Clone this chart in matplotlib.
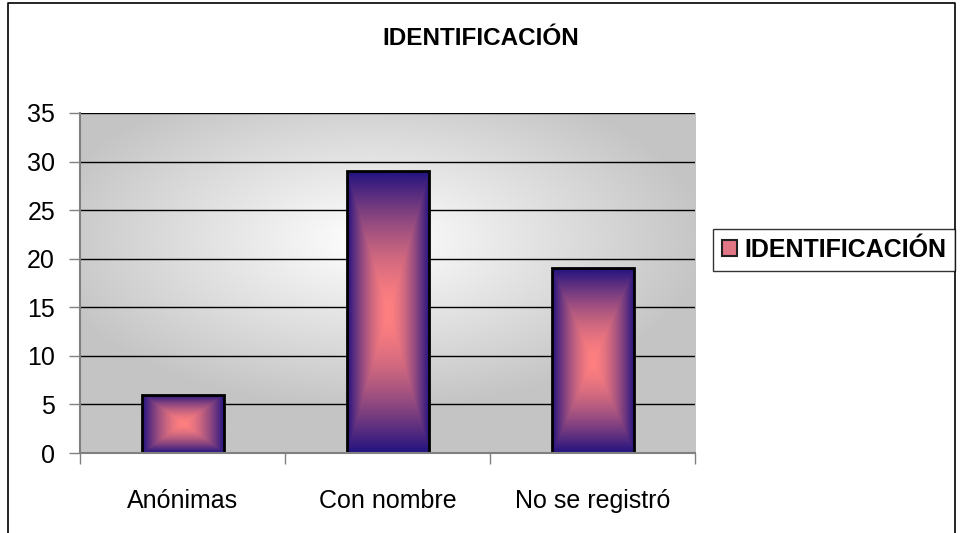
import numpy as np
import matplotlib.pyplot as plt
from matplotlib.patches import Rectangle
from matplotlib.lines import Line2D
from matplotlib.colors import LinearSegmentedColormap

plt.rcParams['font.family'] = ['Liberation Sans', 'DejaVu Sans']

categories = ["Anónimas", "Con nombre", "No se registró"]
values = [6, 29, 19]
series_name = "IDENTIFICACIÓN"
yticks = [0, 5, 10, 15, 20, 25, 30, 35]

edge_col = (0.13, 0.07, 0.50)
mid_col = (1.0, 0.5, 0.5)
bar_cmap = LinearSegmentedColormap.from_list("bar", [mid_col, edge_col])
bg_cmap = LinearSegmentedColormap.from_list("bg", ["#ffffff", "#c4c4c4"])

fig = plt.figure(figsize=(9.62, 5.33), dpi=100)
ax = fig.add_axes([0.0832, 0.150, 0.6393, 0.638])

x = np.arange(len(categories))
ax.set_xlim(-0.5, len(categories) - 0.5)
ax.set_ylim(0, 35)

# radial background of the plot area
gx, gy = np.meshgrid(np.linspace(-1, 1, 300), np.linspace(-1, 1, 200))
r = np.sqrt(((gx + 0.05) / 1.1) ** 2 + ((gy - 0.25) / 1.0) ** 2)
ax.imshow(np.clip(r, 0, 1), cmap=bg_cmap, extent=[-0.5, 2.5, 0, 35],
          aspect="auto", origin="lower", zorder=0, interpolation="bilinear")

for yv in yticks[1:]:
    ax.axhline(yv, color="black", lw=1, zorder=1)

bars = ax.bar(x, values, width=0.4, facecolor="none", edgecolor="black",
              linewidth=2, zorder=3)

# rectangular "from center" gradient inside each bar
u, v = np.meshgrid(np.linspace(-1, 1, 200), np.linspace(-1, 1, 400))
grad = np.maximum(np.abs(u), np.abs(v)) ** 1.6
for b in bars:
    w, h = b.get_width(), b.get_height()
    x0 = b.get_x()
    im = ax.imshow(grad, cmap=bar_cmap, vmin=0, vmax=1,
                   extent=[x0, x0 + w, 0, h], aspect="auto", origin="lower",
                   zorder=2, interpolation="bilinear")
    im.set_clip_path(b)

ax.set_yticks(yticks)
ax.set_xticks(x)
ax.set_xticklabels(categories)
ax.set_xticks([-0.5, 0.5, 1.5, 2.5], minor=True)
ax.tick_params(axis="x", which="major", length=0, pad=26, labelsize=18)
ax.tick_params(axis="x", which="minor", length=8, width=1, color="#808080")
ax.tick_params(axis="y", length=8, width=1, color="#808080", pad=10, labelsize=18)

for s in ["top", "right"]:
    ax.spines[s].set_visible(False)
ax.spines["left"].set_color("#808080")
ax.spines["bottom"].set_color("#808080")
ax.spines["left"].set_linewidth(1.5)
ax.spines["bottom"].set_linewidth(1.5)
ax.spines["bottom"].set_zorder(4)

fig.text(0.5, 0.928, series_name, ha="center", va="center",
         fontsize=17.5, fontweight="bold")

handle = Rectangle((0, 0), 1, 1, facecolor="#e07585", edgecolor="#202020", lw=1.5)
leg = fig.legend([handle], [series_name], loc="center left",
                 bbox_to_anchor=(0.741, 0.531), frameon=True, fancybox=False,
                 handlelength=0.6, handleheight=0.6, handletextpad=0.3,
                 borderpad=0.35, borderaxespad=0,
                 prop={"size": 18, "weight": "bold"})
leg.get_frame().set_edgecolor("black")
leg.get_frame().set_linewidth(1)

# chart area border (bottom edge lies outside the image)
fx = [8 / 962, 8 / 962, 955 / 962, 955 / 962]
fy = [-0.1, 1 - 3 / 533, 1 - 3 / 533, -0.1]
fig.add_artist(Line2D(fx, fy, color="black", lw=1.2, transform=fig.transFigure))

fig.savefig("out.png", dpi=100)
